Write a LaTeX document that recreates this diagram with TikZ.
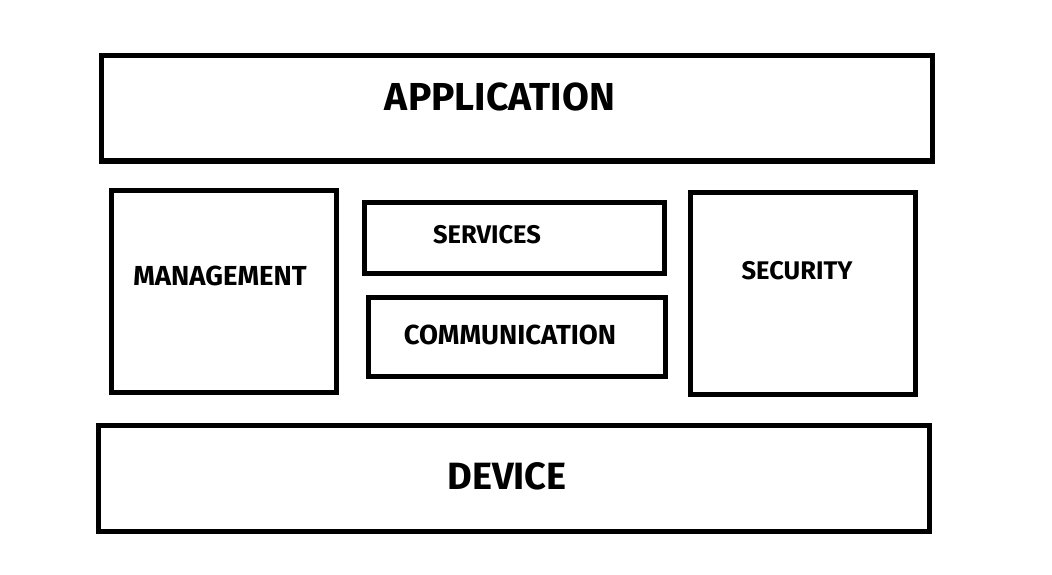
\documentclass[tikz,border=0pt]{standalone}
\usepackage{fontspec}
\setmainfont{Fira Sans}
\begin{document}
\begin{tikzpicture}[x=1pt,y=-1pt,
  box/.style={draw=black,line width=5pt,fill=white},
  lbl/.style={inner sep=0pt,anchor=center}]
\useasboundingbox (0,0) rectangle (1052,575);
\draw[box] (101,56) rectangle (932,161);
\draw[box] (111,190) rectangle (336,392);
\draw[box] (364,202) rectangle (664,273);
\draw[box] (368,297) rectangle (665,376);
\draw[box] (690,192) rectangle (915,394);
\draw[box] (98,425) rectangle (929,531);
\node[lbl,font=\fontsize{39}{39}\bfseries] (app) at (500,97) {APPLICATION};
\node[lbl,font=\fontsize{27.5}{27.5}\bfseries] (man) at (220,276) {MANAGEMENT};
\node[lbl,font=\fontsize{25.5}{25.5}\bfseries] (ser) at (487,235) {SERVICES};
\node[lbl,font=\fontsize{27.5}{27.5}\bfseries] (com) at (510,335) {COMMUNICATION};
\node[lbl,font=\fontsize{25.5}{25.5}\bfseries] (sec) at (797,271) {SECURITY};
\node[lbl,font=\fontsize{38}{38}\bfseries] (dev) at (507,476) {DEVICE};
\end{tikzpicture}
\end{document}
